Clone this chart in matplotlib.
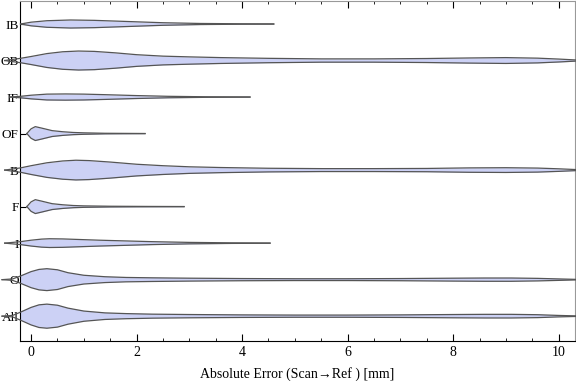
import matplotlib
matplotlib.use("Agg")
import matplotlib.pyplot as plt
import numpy as np
from matplotlib.ticker import MultipleLocator

plt.rcParams['font.family'] = ['Liberation Serif', 'DejaVu Serif']

# categories, from bottom to top
labels = ['All', 'O', 'I', 'F', 'B', 'OF', 'IF', 'OB', 'IB']

# violin outlines: error values [mm] and half widths (in category units)
x_all = [-0.55, -0.35, -0.2, 0.0, 0.15, 0.3, 0.5, 0.7, 1.0, 1.4, 1.8, 2.3, 3.0, 4.0, 5.0, 6.0, 7.0, 8.0, 8.6, 9.1, 9.6, 10.0, 10.4]
w_all = [0.0, 0.02, 0.11, 0.24, 0.31, 0.33, 0.3, 0.22, 0.14, 0.09, 0.07, 0.055, 0.045, 0.035, 0.03, 0.03, 0.035, 0.045, 0.05, 0.05, 0.04, 0.02, 0.005]

x_o = [-0.55, -0.35, -0.2, 0.0, 0.15, 0.3, 0.5, 0.7, 1.0, 1.4, 1.8, 2.3, 3.0, 4.0, 5.0, 6.0, 7.0, 8.0, 8.6, 9.1, 9.6, 10.0, 10.4]
w_o = [0.0, 0.02, 0.1, 0.22, 0.28, 0.3, 0.27, 0.19, 0.12, 0.08, 0.06, 0.05, 0.04, 0.03, 0.025, 0.025, 0.03, 0.04, 0.045, 0.045, 0.035, 0.02, 0.005]

x_i = [-0.5, -0.2, 0.0, 0.2, 0.35, 0.6, 0.9, 1.3, 1.8, 2.3, 3.0, 3.8, 4.53]
w_i = [0.0, 0.04, 0.08, 0.11, 0.12, 0.115, 0.1, 0.08, 0.06, 0.04, 0.02, 0.008, 0.003]

x_f = [-0.08, 0.0, 0.08, 0.2, 0.4, 0.6, 0.8, 1.0, 1.5, 2.2, 2.9]
w_f = [0.0, 0.13, 0.19, 0.15, 0.08, 0.05, 0.03, 0.02, 0.01, 0.005, 0.002]

x_b = [-0.5, -0.2, 0.0, 0.3, 0.6, 0.85, 1.1, 1.5, 2.0, 2.5, 3.0, 3.6, 4.5, 5.5, 6.5, 7.5, 8.3, 9.0, 9.6, 10.0, 10.4]
w_b = [0.0, 0.06, 0.12, 0.2, 0.25, 0.27, 0.26, 0.22, 0.16, 0.12, 0.09, 0.07, 0.05, 0.04, 0.04, 0.045, 0.06, 0.065, 0.055, 0.035, 0.01]

x_of = [-0.08, 0.0, 0.08, 0.2, 0.4, 0.6, 0.8, 1.0, 1.4, 2.16]
w_of = [0.0, 0.13, 0.19, 0.15, 0.08, 0.05, 0.03, 0.02, 0.008, 0.002]

x_if = [-0.4, -0.2, 0.0, 0.3, 0.65, 1.0, 1.4, 2.0, 2.6, 3.3, 4.15]
w_if = [0.0, 0.02, 0.05, 0.08, 0.085, 0.08, 0.065, 0.04, 0.02, 0.008, 0.003]

x_ob = [-0.5, -0.2, 0.0, 0.3, 0.6, 0.9, 1.2, 1.6, 2.0, 2.5, 3.0, 3.6, 4.5, 5.5, 6.5, 7.5, 8.3, 9.0, 9.6, 10.0, 10.4]
w_ob = [0.0, 0.06, 0.11, 0.19, 0.24, 0.26, 0.25, 0.21, 0.16, 0.12, 0.1, 0.08, 0.06, 0.045, 0.045, 0.055, 0.07, 0.08, 0.065, 0.04, 0.01]

x_ib = [-0.2, 0.0, 0.3, 0.75, 1.2, 1.8, 2.5, 3.2, 4.0, 4.6]
w_ib = [0.0, 0.05, 0.09, 0.11, 0.1, 0.07, 0.035, 0.015, 0.006, 0.003]

xs = [x_all, x_o, x_i, x_f, x_b, x_of, x_if, x_ob, x_ib]
ws = [w_all, w_o, w_i, w_f, w_b, w_of, w_if, w_ob, w_ib]

fig = plt.figure(figsize=(5.76, 3.81), dpi=100)
ax = fig.add_axes([20/576, 1 - 341/381, 555/576, 340/381])

for k, (x, w) in enumerate(zip(xs, ws)):
    pos = k + 1
    x = np.array(x)
    w = np.array(w)
    # fill stays inside the frame, the outline runs on past it
    ax.fill_between(x, pos - w, pos + w, color='#ccd1f5', lw=0, zorder=2)
    ax.plot(x, pos + w, color='#555555', lw=0.9, clip_on=False, zorder=3)
    ax.plot(x, pos - w, color='#555555', lw=0.9, clip_on=False, zorder=3)

ax.set_xlim(-0.21, 10.31)
ax.set_ylim(0.32, 9.63)
ax.set_yticks(range(1, len(labels) + 1))
ax.set_yticklabels(labels)
ax.xaxis.set_major_locator(MultipleLocator(2))
ax.xaxis.set_minor_locator(MultipleLocator(0.5))
ax.tick_params(axis='x', which='major', direction='in', length=5, top=True, labelsize=10, width=0.8)
ax.tick_params(axis='x', which='minor', direction='in', length=2.5, top=True, width=0.6)
ax.tick_params(axis='y', which='major', direction='in', length=4, labelsize=9.5, pad=1, width=0.8)
ax.set_xlabel('Absolute Error (Scan\u2192Ref ) [mm]', fontsize=10, labelpad=6)
for s in ax.spines.values():
    s.set_linewidth(0.8)
ax.spines['top'].set_color('#999999')
ax.spines['right'].set_color('#999999')

fig.savefig('out.png', dpi=100)
